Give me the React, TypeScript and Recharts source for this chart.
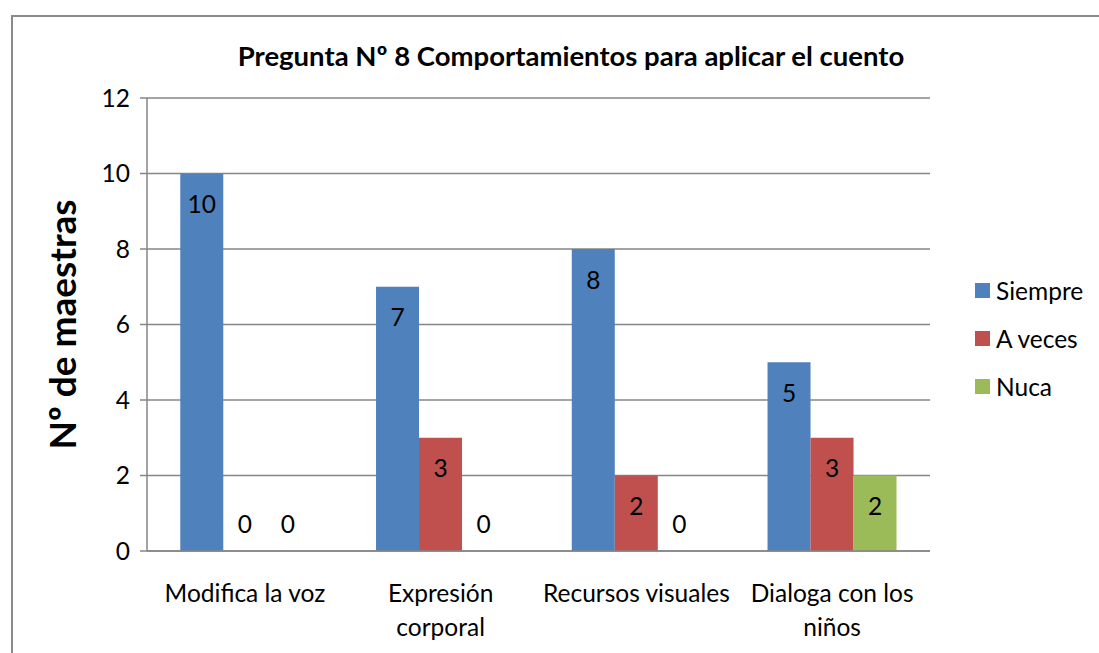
import { BarChart, Bar, XAxis, YAxis, CartesianGrid, LabelList } from "recharts";

// "\n" marks where the axis label wraps
const categories = ["Modifica la voz", "Expresión\ncorporal", "Recursos visuales", "Dialoga con los\nniños"];
const siempre = [10, 7, 8, 5];
const aVeces = [0, 3, 2, 3];
const nuca = [0, 0, 0, 2];
const yTicks = [0, 2, 4, 6, 8, 10, 12];
const edgeTicks = [0, 1, 2, 3, 4];

const seriesList = [
  { key: "siempre", name: "Siempre", color: "#4F81BD" },
  { key: "aVeces", name: "A veces", color: "#C0504D" },
  { key: "nuca", name: "Nuca", color: "#9BBB59" },
];

const data = categories.map((c, i) => ({ name: c, siempre: siempre[i], aVeces: aVeces[i], nuca: nuca[i] }));

const FONT = "Lato, 'Open Sans', sans-serif";
const GRID = "#868686";

function BarValue(props: any) {
  const { x, y, width, height, value } = props;
  if (value === undefined || value === null) return null;
  const cy = value === 0 ? y + height - 28 : y + 30;
  return (
    <text x={x + width / 2} y={cy} textAnchor="middle" dominantBaseline="central" fontSize={24.5} fill="#000" fontFamily={FONT}>
      {value}
    </text>
  );
}

function CategoryTick(props: any) {
  const { x, y, payload } = props;
  const lines = String(payload.value).split("\n");
  return (
    <text x={x} y={y + 45} textAnchor="middle" fontSize={24.5} fill="#000" fontFamily={FONT}>
      {lines.map((l, i) => (
        <tspan key={i} x={x} dy={i === 0 ? 0 : 34}>
          {l}
        </tspan>
      ))}
    </text>
  );
}

function LegendBox() {
  return (
    <div style={{ position: "absolute", left: 975, top: 266, fontFamily: FONT, fontSize: 24.5, color: "#000" }}>
      {seriesList.map((s) => (
        <div key={s.key} style={{ display: "flex", alignItems: "center", height: 48 }}>
          <span style={{ display: "inline-block", width: 15, height: 15, background: s.color, marginRight: 6 }} />
          <span>{s.name}</span>
        </div>
      ))}
    </div>
  );
}

export default function App() {
  return (
    <div style={{ position: "absolute", left: 0, top: 0, width: 1099, height: 653, background: "#fff", overflow: "hidden" }}>
      <div style={{ position: "absolute", left: 11, top: 15, width: 1200, height: 800, borderLeft: "2px solid #8a8a8a", borderTop: "2px solid #8a8a8a" }} />
      <div style={{ position: "absolute", left: 0, width: 1142, top: 39, textAlign: "center", fontFamily: FONT, fontWeight: 700, fontSize: 27.5, color: "#000" }}>
        Pregunta Nº 8 Comportamientos para aplicar el cuento
      </div>
      <BarChart
        width={1099}
        height={653}
        data={data}
        margin={{ top: 98, right: 169, bottom: 7, left: 87 }}
        barCategoryGap="17%"
        barGap={0}
        style={{ position: "absolute", left: 0, top: 0 }}
      >
        <CartesianGrid vertical={false} stroke={GRID} strokeWidth={1.5} />
        <XAxis
          xAxisId="edges"
          type="number"
          domain={[0, 4]}
          ticks={edgeTicks}
          tick={false}
          axisLine={false}
          tickLine={{ stroke: GRID, strokeWidth: 1.5 }}
          tickSize={7}
          height={0}
        />
        <XAxis
          dataKey="name"
          interval={0}
          tickLine={false}
          axisLine={{ stroke: GRID, strokeWidth: 1.5 }}
          tick={<CategoryTick />}
          tickMargin={0}
          height={95}
        />
        <YAxis
          domain={[0, 12]}
          ticks={yTicks}
          width={60}
          tickSize={7}
          tickMargin={10}
          axisLine={{ stroke: GRID, strokeWidth: 1.5 }}
          tickLine={{ stroke: GRID, strokeWidth: 1.5 }}
          tick={{ fontSize: 24.5, fill: "#000", fontFamily: FONT }}
          label={{ value: "Nº de maestras", angle: -90, position: "left", offset: 24, style: { fontSize: 37, fontWeight: 700, fill: "#000", fontFamily: FONT, textAnchor: "middle" } }}
        />
        {seriesList.map((s) => (
          <Bar key={s.key} dataKey={s.key} name={s.name} fill={s.color} minPointSize={0.01} isAnimationActive={false}>
            <LabelList dataKey={s.key} content={<BarValue />} />
          </Bar>
        ))}
      </BarChart>
      <LegendBox />
    </div>
  );
}
